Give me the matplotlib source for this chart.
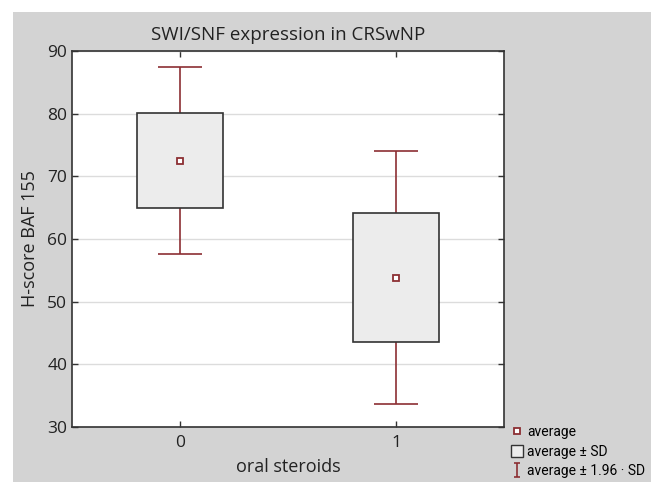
import matplotlib
matplotlib.use("Agg")
from matplotlib import pyplot as plt
from matplotlib.lines import Line2D
from matplotlib.patches import Patch, Rectangle
from matplotlib.path import Path
import numpy as np

# BAF155 H-score by oral steroid use
groups = [0, 1]
group_labels = ["0", "1"]
means = np.array([72.5, 53.8])
sds = np.array([7.6, 10.3])

box_color = "#ececec"
edge_color = "#333333"
whisker_color = "#8c2f33"
panel_gray = "#d3d3d3"

plt.rcParams["font.family"] = ["Open Sans", "DejaVu Sans"]

fig = plt.figure(figsize=(6.51, 4.82), dpi=100)
fig.patch.set_facecolor("white")
# gray panel behind the plot
fig.patches.append(Rectangle((13 / 651, 0), 1, 1 - 12 / 482, transform=fig.transFigure,
                             facecolor=panel_gray, edgecolor="none", zorder=-10))

ax = fig.add_axes([72 / 651, 1 - 427 / 482, (504 - 72) / 651, (427 - 51) / 482])
ax.set_facecolor("white")

x = np.array(groups, dtype=float)
lo_whisk = means - 1.96 * sds
hi_whisk = means + 1.96 * sds

# whiskers and caps
ax.vlines(x, lo_whisk, hi_whisk, color=whisker_color, lw=1.2, zorder=2)
ax.hlines(hi_whisk, x - 0.1, x + 0.1, color=whisker_color, lw=1.2, zorder=2)
ax.hlines(lo_whisk, x - 0.1, x + 0.1, color=whisker_color, lw=1.2, zorder=2)

# mean +/- SD boxes
ax.bar(x, 2 * sds, bottom=means - sds, width=0.4, color=box_color,
       edgecolor=edge_color, linewidth=1.2, zorder=3)

# means
ax.plot(x, means, ls="none", marker="s", ms=4.5, mfc="white",
        mec=whisker_color, mew=1.3, zorder=4)

ax.set_xlim(-0.5, 1.5)
ax.set_ylim(30, 90)
ax.set_xticks(groups)
ax.set_xticklabels(group_labels)
ax.set_yticks(np.arange(30, 91, 10))
ax.yaxis.grid(True, color="#dcdcdc", lw=1.0, zorder=0)
ax.set_axisbelow(True)
ax.tick_params(direction="in", length=4, width=1, labelsize=12.5,
               top=True, right=True, colors=edge_color, labelcolor="#222222")
ax.tick_params(axis="x", pad=6)
for s in ax.spines.values():
    s.set_color(edge_color)
    s.set_linewidth(1.2)

ax.set_title("SWI/SNF expression in CRSwNP", fontsize=13.5, color="#222222", pad=8)
ax.set_xlabel("oral steroids", fontsize=13, color="#222222", labelpad=5)
ax.set_ylabel("H-score BAF 155", fontsize=13, color="#222222", labelpad=6)

# legend with an I-beam symbol for the 1.96 SD range
ibeam = Path([(-0.5, 1), (0.5, 1), (0, 1), (0, -1), (-0.5, -1), (0.5, -1)],
             [Path.MOVETO, Path.LINETO, Path.MOVETO, Path.LINETO, Path.MOVETO, Path.LINETO])
handles = [
    Line2D([], [], ls="none", marker="s", ms=4.5, mfc="white", mec=whisker_color, mew=1.3),
    Patch(facecolor=box_color, edgecolor=edge_color, linewidth=1.0),
    Line2D([], [], ls="none", marker=ibeam, ms=9.5, mec=whisker_color, mew=1.2),
]
labels = ["average", "average \u00b1 SD", "average \u00b1 1.96 \u00b7 SD"]
fig.legend(handles, labels, loc="upper left", bbox_to_anchor=(511 / 651, 1 - 425 / 482),
           frameon=False, handlelength=0.85, handleheight=0.9, handletextpad=0.3,
           labelspacing=0.4, borderpad=0, borderaxespad=0,
           prop={"family": ["Roboto", "DejaVu Sans"], "size": 10})

fig.savefig("out.png", dpi=100, facecolor=fig.get_facecolor())
